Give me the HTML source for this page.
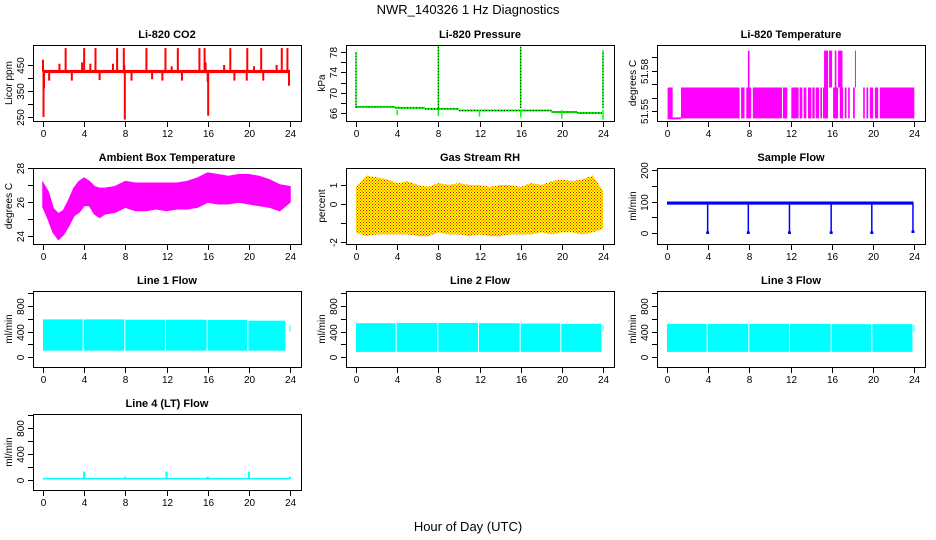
<!DOCTYPE html>
<html><head><meta charset="utf-8"><style>
html,body{margin:0;padding:0;background:#fff;}
svg{display:block;font-family:"Liberation Sans",sans-serif;}
</style></head><body>
<svg id="chart" width="936" height="540" xmlns="http://www.w3.org/2000/svg">
<defs>
<pattern id="rhpat" width="3" height="3" patternUnits="userSpaceOnUse">
<rect width="3" height="3" fill="#ffff00"/><rect x="0" y="0" width="1" height="1" fill="#ff0000"/><rect x="1.5" y="1.5" width="1" height="1" fill="#ff0000"/>
</pattern>
</defs>
<text x="468" y="14" font-size="13" text-anchor="middle">NWR_140326 1 Hz Diagnostics</text>
<text x="468" y="531" font-size="13" text-anchor="middle">Hour of Day (UTC)</text>
</svg>
<script>
// ---- data ----
const xTicks = [0,4,8,12,16,20,24];
// CO2
const co2Base = 425;
const co2SpikeHours = [0.05,0.1,2.2,4.0,5.1,7.2,7.85,10.05,11.9,13.1,15.2,15.7,18.2,19.85,21.2,23.2,23.75,1.6,3.8,4.6,6.8,7.9,15.8,17.6,22.7,20.5,12.5,0.0,7.95,16.05,23.9,0.6,2.8,5.5,8.6,10.6,11.6,13.5,16.0,18.6,19.8,21.4];
const co2SpikeVals  = [250,360,515,515,515,515,515,515,515,515,515,515,515,515,515,515,515,455,460,455,455,450,460,450,450,445,445,470,240,255,370,390,390,392,390,395,390,390,385,390,390,390];
// Pressure
const pressSegStart = [0.05,3.8,6.7,8.0,10.0,16.0,19.0,21.5];
const pressSegEnd   = [3.8,6.7,8.0,10.0,16.0,19.0,21.5,23.9];
const pressSegVals  = [67.2,67.0,66.8,66.8,66.5,66.5,66.2,66.0];
const pressSpikeHours = [0,8,16,24];
const pressSpikeVals  = [78,79.2,79,78.3];
const pressDipHours = [4,8,12,16,20,24];
const pressDipVals  = [65.6,65.4,65.3,65.1,64.9,64.7];
// Li-820 temperature
const tempLow = 51.5445, tempMid = 51.5675, tempHigh = 51.595;
const tempFillStart = [0.06,1.36,7.2,7.7,8.34,11.27,12.08,12.89,13.28,13.7,14.12,14.45,14.9,15.16,16.14,16.79,17.27,17.6,18.08,19.06,19.38,19.71,20.2,20.68];
const tempFillEnd   = [0.55,7.05,7.53,8.18,11.17,11.69,12.79,13.15,13.54,14.03,14.35,14.77,15.06,15.65,16.62,17.11,17.44,17.76,18.25,19.22,19.55,20.03,20.52,24.03];
const tempHighStart = [7.86,15.26,15.75,16.3,16.62,18.26];
const tempHighEnd   = [8.02,15.65,16.04,16.46,17.05,18.32];
// Ambient box temperature
const ambHours = [0,0.5,1,1.5,2,2.5,3,3.5,4,4.5,5,5.5,6,7,8,9,10,11,12,13,14,15,16,17,18,19,20,21,22,23,24];
const ambMax = [27.1,26.6,25.6,25.3,25.5,26.1,26.8,27.2,27.4,27.2,26.9,26.8,26.8,26.9,27.2,27.1,27.1,27.1,27.1,27.1,27.2,27.4,27.7,27.6,27.5,27.6,27.6,27.5,27.3,27.0,26.9];
const ambMin = [25.7,25.0,24.2,23.8,24.1,24.6,25.2,25.4,25.8,25.8,25.3,25.1,25.3,25.4,25.7,25.5,25.5,25.6,25.5,25.6,25.6,25.7,26.0,25.9,25.9,26.0,25.9,25.8,25.7,25.5,26.0];
// Gas stream RH
const rhHours = [0,1,2,3,4,5,6,7,8,9,10,11,12,13,14,15,16,17,18,19,20,21,22,23,24];
const rhMax = [0.9,1.5,1.4,1.3,1.1,1.2,1.0,0.9,1.1,1.0,1.1,1.0,1.0,0.9,1.0,1.0,0.9,1.1,1.0,1.2,1.3,1.2,1.3,1.5,0.7];
const rhMin = [-1.5,-1.7,-1.6,-1.6,-1.6,-1.6,-1.7,-1.7,-1.5,-1.6,-1.6,-1.7,-1.6,-1.7,-1.7,-1.6,-1.6,-1.6,-1.5,-1.6,-1.5,-1.5,-1.6,-1.5,-1.3];
// Sample flow
const sampleBaseLow = 90, sampleBaseHigh = 100;
const sampleDropHours = [3.95,7.9,11.9,15.95,19.9,23.9];
const sampleDropVals = [-3,-3,-3,-3,-3,0];
// Line flows
const line1Start = [0,3.95,8.0,11.95,16.0,19.95,23.95];
const line1End   = [3.85,7.9,11.85,15.9,19.85,23.55,24.0];
const line1Low   = [100,100,100,100,100,100,400];
const line1High  = [590,590,585,585,580,570,500];
const line2Start = [0,3.95,8.0,11.95,16.0,19.95,23.95];
const line2End   = [3.85,7.9,11.85,15.9,19.85,23.85,24.0];
const line2Low   = [80,80,80,80,80,80,420];
const line2High  = [530,535,535,530,525,520,500];
const line3Start = [0,3.95,8.0,11.95,16.0,19.95,23.95];
const line3End   = [3.85,7.9,11.85,15.9,19.85,23.85,24.0];
const line3Low   = [80,80,80,80,80,80,400];
const line3High  = [520,520,520,520,515,515,500];
const line4BaseLow = 8, line4BaseHigh = 32;
const line4SpikeHours = [4,8,12,16,20,24];
const line4SpikeVals  = [130,50,130,50,130,50];

// ---- layout ----
const svg = document.getElementById('chart');
const NS = 'http://www.w3.org/2000/svg';
const colL = [33,346,657], rowT = [45,168,291,414], W = 268, H = 76;
function el(tag, attrs, parent){const e=document.createElementNS(NS,tag);for(const k in attrs)e.setAttribute(k,attrs[k]);(parent||svg).appendChild(e);return e;}

function makePanel(col,row,title,ylab,v1,p1,v2,p2,ticks,labels,name){
  const L=colL[col],T=rowT[row];
  const g=el('g',{});
  
  
  const xs=h=>L+10+h*(W-21)/24;
  const ys=v=>p1+(v-v1)*(p2-p1)/(v2-v1);
  const clip=el('clipPath',{id:'clip-'+name},g);
  el('rect',{x:L,y:T,width:W,height:H},clip);
  const plot=el('g',{'clip-path':'url(#clip-'+name+')'},g);
  
  
  const frame=el('rect',{x:L+0.5,y:T+0.5,width:W,height:H,fill:'none',stroke:'#000','stroke-width':1},g);
  
  
  const t=el('text',{x:L+W/2,y:T-7,'font-size':11,'font-weight':'bold','text-anchor':'middle'},g);
  t.textContent=title;
  
  
  const yl=el('text',{transform:`translate(${L-21},${T+H/2}) rotate(-90)`,'font-size':10,'text-anchor':'middle'},g);
  yl.textContent=ylab;
  
  
  // x ticks
  xTicks.forEach(h=>{
    const x=Math.round(xs(h))+0.5;
    el('line',{x1:x,x2:x,y1:T+H,y2:T+H+6,stroke:'#000'},g);
    const tl=el('text',{x:x,y:T+H+16,'font-size':10,'text-anchor':'middle'},g);
    tl.textContent=h;
    
    
  });
  ticks.forEach(v=>{
    const y=Math.round(ys(v))+0.5;
    el('line',{x1:L-5,x2:L,y1:y,y2:y,stroke:'#000'},g);
    if(labels.includes(v)){
      const tl=el('text',{transform:`translate(${L-9},${y}) rotate(-90)`,'font-size':10,'text-anchor':'middle'},g);
      tl.textContent=v;
      
      
    }
  });
  return {plot,xs,ys};
}
function vline(p,x,y1,y2,color,w,name){
  const l=el('line',{x1:x,x2:x,y1:y1,y2:y2,stroke:color,'stroke-width':w},p);
  
  
  return l;
}
function band(p,x1,x2,y1,y2,color,name){
  const r=el('rect',{x:Math.min(x1,x2),y:Math.min(y1,y2),width:Math.max(1,Math.abs(x2-x1)),height:Math.max(1,Math.abs(y2-y1)),fill:color},p);
  
  
  return r;
}

// CO2
{const P=makePanel(0,0,'Li-820 CO2','Licor ppm',250,117,450,65,[250,300,350,400,450],[250,350,450],'co2');
 band(P.plot,P.xs(0),P.xs(24),P.ys(co2Base-6),P.ys(co2Base+6),'#ff0000','co2-baseline');
 co2SpikeHours.forEach((h,i)=>vline(P.plot,P.xs(h),P.ys(co2Base),P.ys(co2SpikeVals[i]),'#ff0000',2,'co2-spike'));}
// Pressure
{const P=makePanel(1,0,'Li-820 Pressure','kPa',66,113,78,52,[66,68,70,72,74,76,78],[66,70,74,78],'pressure');
 pressSegStart.forEach((s,i)=>{
   const l=el('line',{x1:P.xs(s),x2:P.xs(pressSegEnd[i]),y1:P.ys(pressSegVals[i]),y2:P.ys(pressSegVals[i]),stroke:'#00ff00','stroke-width':2},P.plot);
   
   
   const d=el('line',{x1:P.xs(s),x2:P.xs(pressSegEnd[i]),y1:P.ys(pressSegVals[i]),y2:P.ys(pressSegVals[i]),stroke:'#000','stroke-width':1,'stroke-dasharray':'1 2'},P.plot);
   
   
 });
 pressDipHours.forEach((h,i)=>vline(P.plot,P.xs(h),P.ys(66.6),P.ys(pressDipVals[i]),'#00ff00',1.5,'pressure-dip'));
 pressSpikeHours.forEach((h,i)=>{vline(P.plot,P.xs(h),P.ys(67),P.ys(pressSpikeVals[i]),'#00ff00',1.5,'pressure-spike');
   const d=vline(P.plot,P.xs(h),P.ys(67),P.ys(pressSpikeVals[i]),'#000',1,'pressure-spike-points');d.setAttribute('stroke-dasharray','1 2');});}
// Li-820 temp
{const P=makePanel(2,0,'Li-820 Temperature','degrees C',51.55,111,51.59,57.3,[51.55,51.56,51.57,51.58,51.59],[51.55,51.58],'li820-temp');
 band(P.plot,P.xs(0.06),P.xs(1.36),P.ys(tempLow)-1,P.ys(tempLow)+1,'#ff00ff','temp-low-line');
 tempFillStart.forEach((s,i)=>band(P.plot,P.xs(s),P.xs(tempFillEnd[i]),P.ys(tempLow),P.ys(tempMid),'#ff00ff','temp-fill'));
 tempHighStart.forEach((s,i)=>band(P.plot,P.xs(s),P.xs(tempHighEnd[i]),P.ys(tempMid),P.ys(tempHigh),'#ff00ff','temp-high'));}
// Ambient
{const P=makePanel(0,1,'Ambient Box Temperature','degrees C',24,236,28,168,[24,25,26,27,28],[24,26,28],'ambient');
 let pts=ambHours.map((h,i)=>P.xs(h)+','+P.ys(ambMax[i]));
 for(let i=ambHours.length-1;i>=0;i--)pts.push(P.xs(ambHours[i])+','+P.ys(ambMin[i]));
 const pg=el('polygon',{points:pts.join(' '),fill:'#ff00ff',stroke:'#ff00ff','stroke-width':1.5},P.plot);
 
 }
// RH
{const P=makePanel(1,1,'Gas Stream RH','percent',-2,242,1,185,[-2,-1,0,1],[-2,0,1],'rh');
 let pts=rhHours.map((h,i)=>P.xs(h)+','+P.ys(rhMax[i]));
 for(let i=rhHours.length-1;i>=0;i--)pts.push(P.xs(rhHours[i])+','+P.ys(rhMin[i]));
 const pg=el('polygon',{points:pts.join(' '),fill:'url(#rhpat)'},P.plot);
 
 }
// Sample flow
{const P=makePanel(2,1,'Sample Flow','ml/min',0,233,200,170,[0,50,100,150,200],[0,100,200],'sample-flow');
 band(P.plot,P.xs(0),P.xs(23.95),P.ys(sampleBaseLow),P.ys(sampleBaseHigh),'#0000ff','sample-baseline');
 sampleDropHours.forEach((h,i)=>{vline(P.plot,P.xs(h),P.ys(95),P.ys(sampleDropVals[i]),'#0000ff',1.5,'sample-drop');
   band(P.plot,P.xs(h)-1.5,P.xs(h)+1.5,P.ys(sampleDropVals[i]+8),P.ys(sampleDropVals[i]),'#0000ff','sample-drop-end');});}
// Lines 1-3
function linePanel(col,row,title,name,S,E,Lo,Hi){
  const P=makePanel(col,row,title,'ml/min',0,357-291+rowT[row],800,306-291+rowT[row],[0,200,400,600,800,1000],[0,400,800],name);
  S.forEach((s,i)=>band(P.plot,P.xs(s),P.xs(E[i]),P.ys(Lo[i]),P.ys(Hi[i]),'#00ffff',name+'-band'));
}
linePanel(0,2,'Line 1 Flow','line1',line1Start,line1End,line1Low,line1High);
linePanel(1,2,'Line 2 Flow','line2',line2Start,line2End,line2Low,line2High);
linePanel(2,2,'Line 3 Flow','line3',line3Start,line3End,line3Low,line3High);
// Line 4
{const P=makePanel(0,3,'Line 4 (LT) Flow','ml/min',0,480,800,428,[0,200,400,600,800,1000],[0,400,800],'line4');
 band(P.plot,P.xs(0),P.xs(24),P.ys(line4BaseLow),P.ys(line4BaseHigh),'#00ffff','line4-baseline');
 line4SpikeHours.forEach((h,i)=>vline(P.plot,P.xs(h),P.ys(20),P.ys(line4SpikeVals[i]),'#00ffff',2,'line4-spike'));}
</script>
</body></html>
